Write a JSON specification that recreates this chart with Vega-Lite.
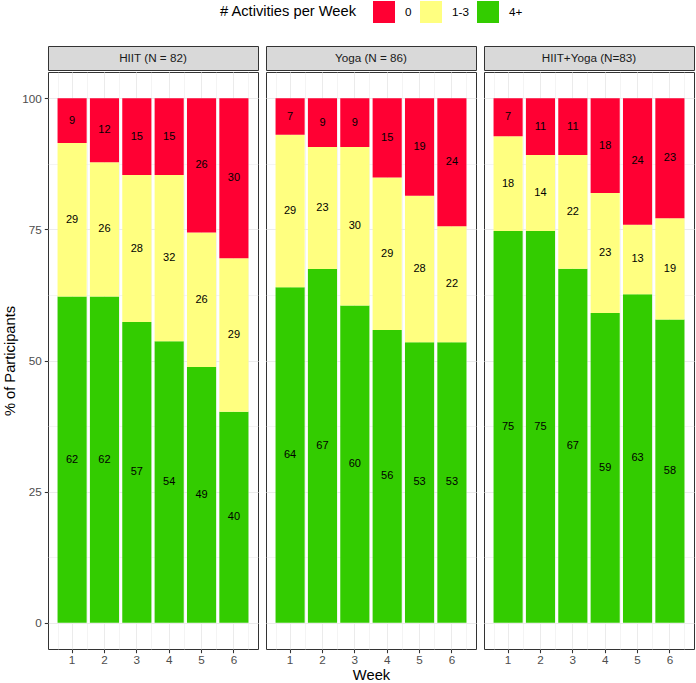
{
  "$schema": "https://vega.github.io/schema/vega-lite/v6.json",
  "padding": {"left": 2, "top": 1, "right": 2, "bottom": 0},
  "datasets": {
    "d": [
      {"group": "HIIT", "week": 1, "cat": "4+", "pct": 62.20}, {"group": "HIIT", "week": 1, "cat": "1-3", "pct": 29.27}, {"group": "HIIT", "week": 1, "cat": "0", "pct": 8.54},
      {"group": "HIIT", "week": 2, "cat": "4+", "pct": 62.20}, {"group": "HIIT", "week": 2, "cat": "1-3", "pct": 25.61}, {"group": "HIIT", "week": 2, "cat": "0", "pct": 12.20},
      {"group": "HIIT", "week": 3, "cat": "4+", "pct": 57.32}, {"group": "HIIT", "week": 3, "cat": "1-3", "pct": 28.05}, {"group": "HIIT", "week": 3, "cat": "0", "pct": 14.63},
      {"group": "HIIT", "week": 4, "cat": "4+", "pct": 53.66}, {"group": "HIIT", "week": 4, "cat": "1-3", "pct": 31.71}, {"group": "HIIT", "week": 4, "cat": "0", "pct": 14.63},
      {"group": "HIIT", "week": 5, "cat": "4+", "pct": 48.78}, {"group": "HIIT", "week": 5, "cat": "1-3", "pct": 25.61}, {"group": "HIIT", "week": 5, "cat": "0", "pct": 25.61},
      {"group": "HIIT", "week": 6, "cat": "4+", "pct": 40.24}, {"group": "HIIT", "week": 6, "cat": "1-3", "pct": 29.27}, {"group": "HIIT", "week": 6, "cat": "0", "pct": 30.49},
      {"group": "Yoga", "week": 1, "cat": "4+", "pct": 63.95}, {"group": "Yoga", "week": 1, "cat": "1-3", "pct": 29.07}, {"group": "Yoga", "week": 1, "cat": "0", "pct": 6.98},
      {"group": "Yoga", "week": 2, "cat": "4+", "pct": 67.44}, {"group": "Yoga", "week": 2, "cat": "1-3", "pct": 23.26}, {"group": "Yoga", "week": 2, "cat": "0", "pct": 9.30},
      {"group": "Yoga", "week": 3, "cat": "4+", "pct": 60.47}, {"group": "Yoga", "week": 3, "cat": "1-3", "pct": 30.23}, {"group": "Yoga", "week": 3, "cat": "0", "pct": 9.30},
      {"group": "Yoga", "week": 4, "cat": "4+", "pct": 55.81}, {"group": "Yoga", "week": 4, "cat": "1-3", "pct": 29.07}, {"group": "Yoga", "week": 4, "cat": "0", "pct": 15.12},
      {"group": "Yoga", "week": 5, "cat": "4+", "pct": 53.49}, {"group": "Yoga", "week": 5, "cat": "1-3", "pct": 27.91}, {"group": "Yoga", "week": 5, "cat": "0", "pct": 18.60},
      {"group": "Yoga", "week": 6, "cat": "4+", "pct": 53.49}, {"group": "Yoga", "week": 6, "cat": "1-3", "pct": 22.09}, {"group": "Yoga", "week": 6, "cat": "0", "pct": 24.42},
      {"group": "Both", "week": 1, "cat": "4+", "pct": 74.70}, {"group": "Both", "week": 1, "cat": "1-3", "pct": 18.07}, {"group": "Both", "week": 1, "cat": "0", "pct": 7.23},
      {"group": "Both", "week": 2, "cat": "4+", "pct": 74.70}, {"group": "Both", "week": 2, "cat": "1-3", "pct": 14.46}, {"group": "Both", "week": 2, "cat": "0", "pct": 10.84},
      {"group": "Both", "week": 3, "cat": "4+", "pct": 67.47}, {"group": "Both", "week": 3, "cat": "1-3", "pct": 21.69}, {"group": "Both", "week": 3, "cat": "0", "pct": 10.84},
      {"group": "Both", "week": 4, "cat": "4+", "pct": 59.04}, {"group": "Both", "week": 4, "cat": "1-3", "pct": 22.89}, {"group": "Both", "week": 4, "cat": "0", "pct": 18.07},
      {"group": "Both", "week": 5, "cat": "4+", "pct": 62.65}, {"group": "Both", "week": 5, "cat": "1-3", "pct": 13.25}, {"group": "Both", "week": 5, "cat": "0", "pct": 24.10},
      {"group": "Both", "week": 6, "cat": "4+", "pct": 57.83}, {"group": "Both", "week": 6, "cat": "1-3", "pct": 19.28}, {"group": "Both", "week": 6, "cat": "0", "pct": 22.89}
    ]
  },
  "config": {
    "font": "Liberation Sans",
    "view": {"stroke": "#333333", "strokeWidth": 1},
    "axis": {
      "domain": false,
      "gridColor": "#EBEBEB",
      "gridWidth": 1.07,
      "tickColor": "#333333",
      "tickSize": 3.7,
      "tickWidth": 1.07,
      "labelColor": "#4D4D4D",
      "labelFontSize": 11.7,
      "labelPadding": 2,
      "titleFontSize": 14.7,
      "titleFontWeight": "normal",
      "titleColor": "#000000"
    }
  },
  "spacing": 6,
  "hconcat": [
    {
      "spacing": 0,
      "vconcat": [
        {
          "width": 210, "height": 24,
          "data": {"values": [{"label": "HIIT (N = 82)"}]},
          "view": {"fill": "#D9D9D9", "stroke": "#333333"},
          "mark": {"type": "text", "fontSize": 11.7, "color": "#1A1A1A"},
          "encoding": {"text": {"field": "label"}}
        },
        {
          "width": 210, "height": 577,
          "data": {"name": "d"},
          "transform": [{"filter": "datum.group === 'HIIT'"}],
          "resolve": {"axis": {"x": "independent", "y": "independent"}},
          "layer": [
            {
              "mark": {"type": "bar", "opacity": 0},
              "encoding": {
                "x": {"field": "week", "type": "ordinal", "scale": {"type": "band", "paddingInner": 0.1, "paddingOuter": 0.295},
                      "axis": {"orient": "top", "tickBand": "extent", "labels": false, "ticks": false, "title": null, "grid": true, "gridWidth": 0.53}},
                "y": {"field": "pct", "type": "quantitative", "stack": "zero", "scale": {"domain": [-5, 105], "nice": false, "zero": false},
                      "axis": {"orient": "right", "values": [12.5, 37.5, 62.5, 87.5], "labels": false, "ticks": false, "title": null, "grid": true, "gridWidth": 0.53}}
              }
            },
            {
              "mark": {"type": "bar"},
              "encoding": {
                "x": {"field": "week", "type": "ordinal", "axis": {"orient": "bottom", "bandPosition": 0.5, "labelAngle": 0, "title": null, "grid": true}},
                "y": {"field": "pct", "type": "quantitative", "stack": "zero",
                      "axis": {"orient": "left", "values": [0, 25, 50, 75, 100], "labelPadding": 3, "title": "% of Participants", "titlePadding": 4, "grid": true}},
                "color": {"field": "cat", "type": "nominal",
                          "scale": {"domain": ["0", "1-3", "4+"], "range": ["#FF0033", "#FFFF80", "#33CC00"]},
                          "legend": {"orient": "none", "legendX": 172, "legendY": -45, "direction": "horizontal", "title": "# Activities per Week",
                                     "titleOrient": "left", "titleFontSize": 14.7, "titleFontWeight": "normal", "titleColor": "#000000", "titlePadding": 16,
                                     "labelFontSize": 11.7, "labelColor": "#000000", "labelOffset": 10, "columnPadding": 8,
                                     "symbolType": "square", "symbolSize": 484, "symbolStrokeWidth": 0, "symbolOpacity": 1}},
                "order": {"field": "cat", "sort": "descending"}
              }
            },
            {
              "mark": {"type": "text", "fontSize": 11, "color": "#000000"},
              "encoding": {
                "x": {"field": "week", "type": "ordinal", "axis": null},
                "y": {"field": "pct", "type": "quantitative", "stack": "zero", "bandPosition": 0.5, "axis": null},
                "text": {"field": "pct", "type": "quantitative", "format": ".0f"},
                "order": {"field": "cat", "sort": "descending"}
              }
            }
          ]
        }
      ]
    },
    {
      "spacing": 0,
      "vconcat": [
        {
          "width": 210, "height": 24,
          "data": {"values": [{"label": "Yoga (N = 86)"}]},
          "view": {"fill": "#D9D9D9", "stroke": "#333333"},
          "mark": {"type": "text", "fontSize": 11.7, "color": "#1A1A1A"},
          "encoding": {"text": {"field": "label"}}
        },
        {
          "width": 210, "height": 577,
          "data": {"name": "d"},
          "transform": [{"filter": "datum.group === 'Yoga'"}],
          "resolve": {"axis": {"x": "independent", "y": "independent"}},
          "layer": [
            {
              "mark": {"type": "bar", "opacity": 0},
              "encoding": {
                "x": {"field": "week", "type": "ordinal", "scale": {"type": "band", "paddingInner": 0.1, "paddingOuter": 0.295},
                      "axis": {"orient": "top", "tickBand": "extent", "labels": false, "ticks": false, "title": null, "grid": true, "gridWidth": 0.53}},
                "y": {"field": "pct", "type": "quantitative", "stack": "zero", "scale": {"domain": [-5, 105], "nice": false, "zero": false},
                      "axis": {"orient": "right", "values": [12.5, 37.5, 62.5, 87.5], "labels": false, "ticks": false, "title": null, "grid": true, "gridWidth": 0.53}}
              }
            },
            {
              "mark": {"type": "bar"},
              "encoding": {
                "x": {"field": "week", "type": "ordinal", "axis": {"orient": "bottom", "bandPosition": 0.5, "labelAngle": 0, "title": "Week", "titlePadding": 1, "grid": true}},
                "y": {"field": "pct", "type": "quantitative", "stack": "zero",
                      "axis": {"orient": "left", "values": [0, 25, 50, 75, 100], "labels": false, "ticks": false, "title": null, "grid": true}},
                "color": {"field": "cat", "type": "nominal"},
                "order": {"field": "cat", "sort": "descending"}
              }
            },
            {
              "mark": {"type": "text", "fontSize": 11, "color": "#000000"},
              "encoding": {
                "x": {"field": "week", "type": "ordinal", "axis": null},
                "y": {"field": "pct", "type": "quantitative", "stack": "zero", "bandPosition": 0.5, "axis": null},
                "text": {"field": "pct", "type": "quantitative", "format": ".0f"},
                "order": {"field": "cat", "sort": "descending"}
              }
            }
          ]
        }
      ]
    },
    {
      "spacing": 0,
      "vconcat": [
        {
          "width": 210, "height": 24,
          "data": {"values": [{"label": "HIIT+Yoga (N=83)"}]},
          "view": {"fill": "#D9D9D9", "stroke": "#333333"},
          "mark": {"type": "text", "fontSize": 11.7, "color": "#1A1A1A"},
          "encoding": {"text": {"field": "label"}}
        },
        {
          "width": 210, "height": 577,
          "data": {"name": "d"},
          "transform": [{"filter": "datum.group === 'Both'"}],
          "resolve": {"axis": {"x": "independent", "y": "independent"}},
          "layer": [
            {
              "mark": {"type": "bar", "opacity": 0},
              "encoding": {
                "x": {"field": "week", "type": "ordinal", "scale": {"type": "band", "paddingInner": 0.1, "paddingOuter": 0.295},
                      "axis": {"orient": "top", "tickBand": "extent", "labels": false, "ticks": false, "title": null, "grid": true, "gridWidth": 0.53}},
                "y": {"field": "pct", "type": "quantitative", "stack": "zero", "scale": {"domain": [-5, 105], "nice": false, "zero": false},
                      "axis": {"orient": "right", "values": [12.5, 37.5, 62.5, 87.5], "labels": false, "ticks": false, "title": null, "grid": true, "gridWidth": 0.53}}
              }
            },
            {
              "mark": {"type": "bar"},
              "encoding": {
                "x": {"field": "week", "type": "ordinal", "axis": {"orient": "bottom", "bandPosition": 0.5, "labelAngle": 0, "title": null, "grid": true}},
                "y": {"field": "pct", "type": "quantitative", "stack": "zero",
                      "axis": {"orient": "left", "values": [0, 25, 50, 75, 100], "labels": false, "ticks": false, "title": null, "grid": true}},
                "color": {"field": "cat", "type": "nominal"},
                "order": {"field": "cat", "sort": "descending"}
              }
            },
            {
              "mark": {"type": "text", "fontSize": 11, "color": "#000000"},
              "encoding": {
                "x": {"field": "week", "type": "ordinal", "axis": null},
                "y": {"field": "pct", "type": "quantitative", "stack": "zero", "bandPosition": 0.5, "axis": null},
                "text": {"field": "pct", "type": "quantitative", "format": ".0f"},
                "order": {"field": "cat", "sort": "descending"}
              }
            }
          ]
        }
      ]
    }
  ]
}
